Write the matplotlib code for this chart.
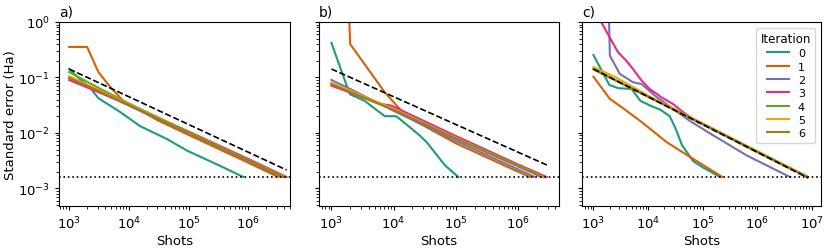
import matplotlib
matplotlib.use("Agg")
import matplotlib.pyplot as plt

colors = ["#1b9e77", "#d95f02", "#7570b3", "#e7298a", "#66a61e", "#e6ab02", "#a6761d"]
labels = ["0", "1", "2", "3", "4", "5", "6"]
chem_acc = 0.0016

# ---- panel a ----
a_x = [
    [1e3, 1.5e3, 2.2e3, 3.1e3, 6.7e3, 1.55e4, 4.3e4, 9.4e4, 3e5, 8.3e5],
    [1e3, 2e3, 3.1e3, 4.9e3, 8e3, 3e4, 1e5, 1e6, 3.2e6],
    [1e3, 3e3, 1e4, 1e5, 1e6, 3.75e6],
    [1e3, 3e3, 1e4, 1e5, 1e6, 4.4e6],
    [1e3, 3e3, 1e4, 1e5, 1e6, 4.2e6],
    [1e3, 3e3, 1e4, 1e5, 1e6, 4.0e6],
    [1e3, 3e3, 1e4, 1e5, 1e6, 3.9e6],
]
a_y = [
    [0.142, 0.094, 0.067, 0.042, 0.025, 0.0132, 0.0078, 0.0048, 0.0027, 0.0016],
    [0.355, 0.355, 0.124, 0.067, 0.038, 0.0170, 0.0092, 0.0029, 0.0016],
    [0.100, 0.058, 0.031, 0.0098, 0.0031, 0.0016],
    [0.090, 0.055, 0.032, 0.0106, 0.0034, 0.0016],
    [0.125, 0.066, 0.034, 0.0104, 0.0033, 0.0016],
    [0.105, 0.060, 0.033, 0.0101, 0.0032, 0.0016],
    [0.098, 0.058, 0.032, 0.0100, 0.0032, 0.0016],
]
a_ref_x = [1e3, 4.4e6]
a_ref_y = [0.142, 0.00214]

# ---- panel b ----
b_x = [
    [1e3, 1.97e3, 3.4e3, 7.2e3, 1.1e4, 1.7e4, 2.65e4, 3.4e4, 6.7e4, 1.1e5],
    [1.9e3, 2e3, 7.2e3, 1.6e4, 1e5, 1e6, 1.55e6],
    [1e3, 2e3, 1e4, 1e5, 1e6, 1.85e6],
    [1e3, 3e3, 5.6e3, 9.2e3, 1e5, 1e6, 2.9e6],
    [1e3, 1e4, 1e5, 1e6, 2.6e6],
    [1e3, 1e4, 1e5, 1e6, 2.5e6],
    [1e3, 1e4, 1e5, 1e6, 2.4e6],
]
b_y = [
    [0.42, 0.050, 0.038, 0.020, 0.020, 0.0135, 0.0089, 0.0068, 0.0026, 0.0016],
    [2.0, 0.40, 0.054, 0.020, 0.0065, 0.0020, 0.0016],
    [0.090, 0.062, 0.025, 0.0072, 0.0022, 0.0016],
    [0.071, 0.045, 0.034, 0.031, 0.0088, 0.0027, 0.0016],
    [0.078, 0.027, 0.0082, 0.0026, 0.0016],
    [0.080, 0.027, 0.0081, 0.0025, 0.0016],
    [0.075, 0.026, 0.0079, 0.0025, 0.0016],
]
b_ref_x = [1e3, 3.1e6]
b_ref_y = [0.142, 0.00255]

# ---- panel c ----
c_x = [
    [1e3, 1.96e3, 2.87e3, 5e3, 7.2e3, 1.1e4, 1.7e4, 2.5e4, 3.2e4, 4.2e4, 6.7e4, 1e5, 2.1e5],
    [1e3, 2e3, 3.3e3, 7.7e3, 2.2e4, 6.7e4, 2.3e5],
    [1.9e3, 2e3, 3.04e3, 5.3e3, 7.6e3, 1.33e4, 2.9e4, 5.8e4, 1.6e5, 6.5e5, 4e6],
    [1e3, 2e3, 2.83e3, 4e3, 5.3e3, 7.6e3, 1.07e4, 1.76e4, 2.9e4, 4.4e4, 6.7e4, 1e6, 8.5e6],
    [1e3, 1e4, 1e5, 1e6, 8.3e6],
    [1e3, 2.6e3, 1e4, 1e5, 1e6, 8.6e6],
    [1e3, 1e4, 1e5, 1e6, 8.4e6],
]
c_y = [
    [0.254, 0.073, 0.064, 0.062, 0.038, 0.031, 0.026, 0.020, 0.012, 0.0060, 0.0031, 0.0024, 0.0016],
    [0.103, 0.041, 0.029, 0.0156, 0.0068, 0.0034, 0.0016],
    [2.0, 0.247, 0.116, 0.082, 0.076, 0.047, 0.027, 0.0165, 0.0089, 0.0039, 0.0016],
    [1.8, 0.52, 0.284, 0.20, 0.142, 0.088, 0.062, 0.044, 0.033, 0.0236, 0.0179, 0.0046, 0.0016],
    [0.142, 0.045, 0.0143, 0.0045, 0.0016],
    [0.153, 0.100, 0.047, 0.0148, 0.0047, 0.0016],
    [0.140, 0.045, 0.0145, 0.0046, 0.0016],
]
c_ref_x = [1e3, 8.5e6]
c_ref_y = [0.142, 0.00154]

panels = [
    ("a)", a_x, a_y, a_ref_x, a_ref_y, (10**2.83, 10**6.70)),
    ("b)", b_x, b_y, b_ref_x, b_ref_y, (10**2.80, 10**6.66)),
    ("c)", c_x, c_y, c_ref_x, c_ref_y, (10**2.79, 10**7.17)),
]

fig = plt.figure(figsize=(8.31, 2.51), dpi=100)
rects = [
    [59 / 831, 1 - 207 / 251, 231 / 831, 184 / 251],
    [319 / 831, 1 - 207 / 251, 240 / 831, 184 / 251],
    [582 / 831, 1 - 207 / 251, 239 / 831, 184 / 251],
]

for i, (title, xs, ys, rx, ry, xlim) in enumerate(panels):
    ax = fig.add_axes(rects[i])
    for k in range(7):
        ax.plot(xs[k], ys[k], color=colors[k], lw=1.5, label=labels[k])
    ax.plot(rx, ry, color="black", ls="--", lw=1.2)
    ax.axhline(chem_acc, color="black", ls=":", lw=1.2)
    ax.set_xscale("log")
    ax.set_yscale("log")
    ax.set_xlim(*xlim)
    ax.set_ylim(4.8e-4, 1)
    ax.set_title(title, loc="left", fontsize=10, pad=5)
    ax.set_xlabel("Shots", fontsize=9.5, labelpad=2)
    ax.tick_params(labelsize=9.5, length=3)
    ax.tick_params(which="minor", length=2)
    if i == 0:
        ax.set_ylabel("Standard error (Ha)", fontsize=9.5)
        ax.yaxis.set_label_coords(-0.18, 0.5)
    else:
        ax.tick_params(axis="y", which="both", labelleft=False)
    if i == 2:
        ax.legend(title="Iteration", fontsize=8, title_fontsize=8.5, loc="upper right",
                  handlelength=2.0, labelspacing=0.3, borderpad=0.4)

fig.savefig("out.png", dpi=100)
